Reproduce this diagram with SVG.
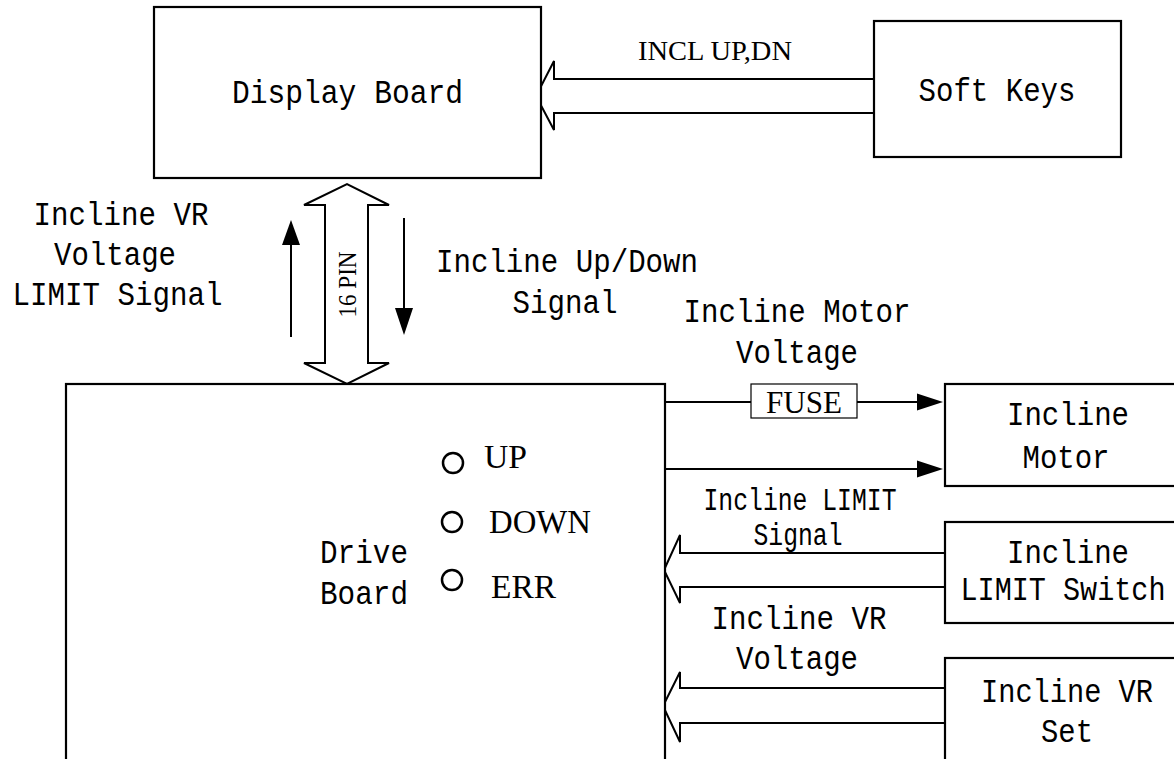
<svg xmlns="http://www.w3.org/2000/svg" width="1174" height="759" viewBox="0 0 1174 759">
<style>
.box{fill:#fff;stroke:#000;stroke-width:2.2}
.ln{fill:none;stroke:#000;stroke-width:2}
.big{fill:#fff;stroke:#000;stroke-width:2}
.hd{fill:#000;stroke:none}
.m{font-family:"Liberation Mono",monospace;font-size:34px;fill:#000;text-anchor:middle}
.ms{font-family:"Liberation Mono",monospace;font-size:31px;fill:#000;text-anchor:middle}
.mt{font-family:"Liberation Mono",monospace;font-size:29px;fill:#000;text-anchor:middle}
.s{font-family:"Liberation Serif",serif;fill:#000}
.led{fill:none;stroke:#000;stroke-width:2.5}
</style>
<rect width="1174" height="759" fill="#fff"/>
<g id="connectors">
<path class="big" d="M874,79 L554,79 L554,61 L536,96 L554,130 L554,113 L874,113"/>
<path class="big" d="M325,363 L325,205 L304,205 L347,184 L389,205 L368,205 L368,363 L389,363 L347,384 L304,363 Z"/>
<line class="ln" x1="291" y1="337" x2="291" y2="243"/>
<polygon class="hd" points="291,220 282,245 300,245"/>
<line class="ln" x1="404" y1="218" x2="404" y2="310"/>
<polygon class="hd" points="404,335 395,308 413,308"/>
<line class="ln" x1="665" y1="402" x2="751" y2="402"/>
<line class="ln" x1="857" y1="402" x2="920" y2="402"/>
<polygon class="hd" points="943,402 917,393.5 917,410.5"/>
<line class="ln" x1="665" y1="469" x2="920" y2="469"/>
<polygon class="hd" points="943,469 917,460.5 917,477.5"/>
<path class="big" d="M945,553 L680,553 L680,535 L664,570 L680,603 L680,587 L945,587"/>
<path class="big" d="M946,688 L680,688 L680,672 L663,706 L680,742 L680,723 L946,723"/>
<text class="s" font-size="28" x="715" y="60" text-anchor="middle" textLength="154" lengthAdjust="spacingAndGlyphs">INCL UP,DN</text>
<text class="s" font-size="26" transform="translate(355.5,284.5) rotate(-90)" text-anchor="middle" textLength="66" lengthAdjust="spacingAndGlyphs">16 PIN</text>
<text class="m" x="121" y="225" textLength="175" lengthAdjust="spacingAndGlyphs">Incline VR</text>
<text class="m" x="115" y="265" textLength="122" lengthAdjust="spacingAndGlyphs">Voltage</text>
<text class="m" x="117.5" y="305" textLength="210" lengthAdjust="spacingAndGlyphs">LIMIT Signal</text>
<text class="m" x="567" y="272" textLength="262" lengthAdjust="spacingAndGlyphs">Incline Up/Down</text>
<text class="m" x="565" y="313" textLength="105" lengthAdjust="spacingAndGlyphs">Signal</text>
<text class="m" x="797" y="322" textLength="227" lengthAdjust="spacingAndGlyphs">Incline Motor</text>
<text class="m" x="797" y="363" textLength="122" lengthAdjust="spacingAndGlyphs">Voltage</text>
<g id="fuse">
<rect x="751" y="384" width="106" height="34" fill="#fff" stroke="#000" stroke-width="1.2"/>
<text class="s" font-size="32" x="804" y="413" text-anchor="middle" textLength="76" lengthAdjust="spacingAndGlyphs">FUSE</text>
</g>
<text class="ms" x="800" y="510" textLength="193" lengthAdjust="spacingAndGlyphs">Incline LIMIT</text>
<text class="ms" x="798" y="545" textLength="89" lengthAdjust="spacingAndGlyphs">Signal</text>
<text class="m" x="799" y="629" textLength="175" lengthAdjust="spacingAndGlyphs">Incline VR</text>
<text class="m" x="797" y="669" textLength="122" lengthAdjust="spacingAndGlyphs">Voltage</text>
</g>
<g id="display-board">
<rect class="box" x="154" y="7" width="387" height="171"/>
<text class="m" x="347.5" y="103" textLength="231" lengthAdjust="spacingAndGlyphs">Display Board</text>
</g>
<g id="soft-keys">
<rect class="box" x="874" y="21" width="247" height="136"/>
<text class="m" x="997" y="101" textLength="157" lengthAdjust="spacingAndGlyphs">Soft Keys</text>
</g>
<g id="drive-board">
<rect class="box" x="66" y="384" width="599" height="420"/>
<text class="m" x="364" y="563" textLength="88" lengthAdjust="spacingAndGlyphs">Drive</text>
<text class="m" x="364" y="604" textLength="88" lengthAdjust="spacingAndGlyphs">Board</text>
<circle class="led" cx="453" cy="463" r="10"/>
<circle class="led" cx="452" cy="522" r="10"/>
<circle class="led" cx="452" cy="580" r="10"/>
<text class="s" font-size="33" x="484" y="468" textLength="43" lengthAdjust="spacingAndGlyphs">UP</text>
<text class="s" font-size="33" x="489" y="533" textLength="102" lengthAdjust="spacingAndGlyphs">DOWN</text>
<text class="s" font-size="33" x="491" y="598" textLength="65" lengthAdjust="spacingAndGlyphs">ERR</text>
</g>
<g id="incline-motor">
<rect class="box" x="945" y="384" width="260" height="102"/>
<text class="m" x="1068" y="425" textLength="122" lengthAdjust="spacingAndGlyphs">Incline</text>
<text class="m" x="1066" y="468" textLength="87" lengthAdjust="spacingAndGlyphs">Motor</text>
</g>
<g id="incline-limit-switch">
<rect class="box" x="945" y="522" width="260" height="101"/>
<text class="m" x="1068" y="563" textLength="122" lengthAdjust="spacingAndGlyphs">Incline</text>
<text class="mt" transform="translate(1063,600) scale(1,1.17)" x="0" y="0" textLength="205" lengthAdjust="spacingAndGlyphs">LIMIT Switch</text>
</g>
<g id="incline-vr-set">
<rect class="box" x="945" y="658" width="260" height="200"/>
<text class="mt" transform="translate(1067,702) scale(1,1.17)" x="0" y="0" textLength="172" lengthAdjust="spacingAndGlyphs">Incline VR</text>
<text class="m" x="1067" y="742" textLength="52" lengthAdjust="spacingAndGlyphs">Set</text>
</g>
</svg>
